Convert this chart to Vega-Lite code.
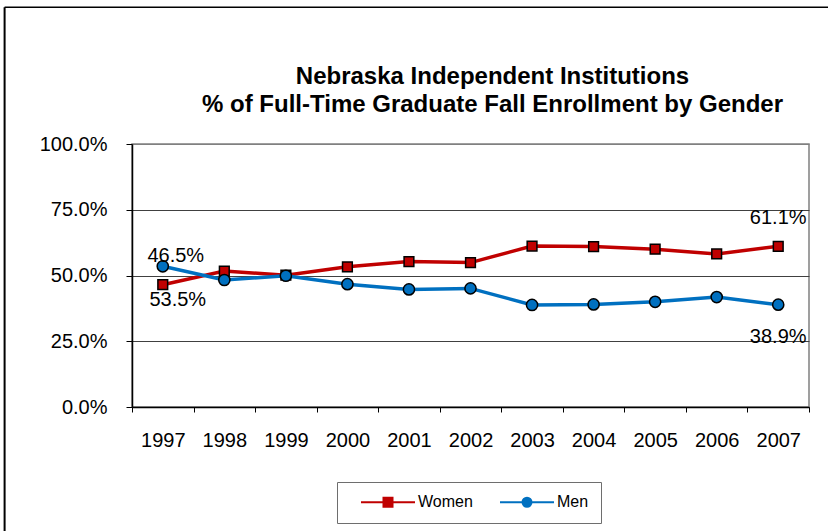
{
  "$schema": "https://vega.github.io/schema/vega-lite/v6.json",
  "width": 677,
  "height": 263,
  "autosize": {"type": "none"},
  "padding": {"left": 132, "top": 144, "right": 19, "bottom": 124},
  "background": "white",
  "config": {
    "view": {"stroke": "#808080", "strokeWidth": 1.5},
    "font": "Liberation Sans"
  },
  "title": {
    "text": ["Nebraska Independent Institutions", "% of Full-Time Graduate Fall Enrollment by Gender"],
    "font": "Liberation Sans",
    "fontSize": 24,
    "fontWeight": "bold",
    "color": "black",
    "anchor": "middle",
    "frame": "group",
    "dx": 22,
    "offset": -111,
    "lineHeight": 28
  },
  "data": {
    "values": [
      {"year": 1997, "series": "Women", "value": 0.465},
      {"year": 1998, "series": "Women", "value": 0.517},
      {"year": 1999, "series": "Women", "value": 0.501},
      {"year": 2000, "series": "Women", "value": 0.533},
      {"year": 2001, "series": "Women", "value": 0.553},
      {"year": 2002, "series": "Women", "value": 0.549},
      {"year": 2003, "series": "Women", "value": 0.612},
      {"year": 2004, "series": "Women", "value": 0.610},
      {"year": 2005, "series": "Women", "value": 0.600},
      {"year": 2006, "series": "Women", "value": 0.582},
      {"year": 2007, "series": "Women", "value": 0.611},
      {"year": 1997, "series": "Men", "value": 0.535},
      {"year": 1998, "series": "Men", "value": 0.483},
      {"year": 1999, "series": "Men", "value": 0.499},
      {"year": 2000, "series": "Men", "value": 0.467},
      {"year": 2001, "series": "Men", "value": 0.447},
      {"year": 2002, "series": "Men", "value": 0.451},
      {"year": 2003, "series": "Men", "value": 0.388},
      {"year": 2004, "series": "Men", "value": 0.390},
      {"year": 2005, "series": "Men", "value": 0.400},
      {"year": 2006, "series": "Men", "value": 0.418},
      {"year": 2007, "series": "Men", "value": 0.389}
    ]
  },
  "layer": [
    {
      "data": {"values": [{}]},
      "mark": {"type": "rule", "color": "black", "strokeWidth": 2},
      "encoding": {
        "x": {"datum": 1994.43, "type": "quantitative"},
        "y": {"datum": 1.52, "type": "quantitative"},
        "y2": {"datum": -0.6}
      }
    },
    {
      "data": {"values": [{}]},
      "mark": {"type": "rule", "color": "black", "strokeWidth": 1.5},
      "encoding": {
        "x": {"datum": 1994.43, "type": "quantitative"},
        "x2": {"datum": 2008.2},
        "y": {"datum": 1.52, "type": "quantitative"}
      }
    },
    {
      "mark": {"type": "line", "strokeWidth": 3.5},
      "encoding": {
        "x": {
          "field": "year",
          "type": "quantitative",
          "scale": {"domain": [1996.5, 2007.5], "nice": false, "zero": false},
          "axis": {
            "title": null,
            "values": [1996.5, 1997.5, 1998.5, 1999.5, 2000.5, 2001.5, 2002.5, 2003.5, 2004.5, 2005.5, 2006.5, 2007.5],
            "labelExpr": "datum.value > 2007 ? '' : toString(datum.value + 0.5)",
            "labelOffset": 30.8,
            "labelFont": "Liberation Sans",
            "labelFontSize": 20,
            "labelColor": "black",
            "labelPadding": 18,
            "labelOverlap": false,
            "labelFlush": false,
            "labelBound": false,
            "tickSize": 5,
            "tickColor": "black",
            "domainColor": "black",
            "domainWidth": 1.5,
            "grid": false
          }
        },
        "y": {
          "field": "value",
          "type": "quantitative",
          "scale": {"domain": [0, 1], "nice": false},
          "axis": {
            "title": null,
            "values": [0, 0.25, 0.5, 0.75, 1],
            "format": ".1%",
            "labelFont": "Liberation Sans",
            "labelFontSize": 20,
            "labelColor": "black",
            "labelPadding": 19,
            "tickSize": 6,
            "tickColor": "black",
            "domainColor": "black",
            "domainWidth": 1.5,
            "grid": true,
            "gridColor": {"condition": {"test": "datum.value === 1", "value": "#808080"}, "value": "#404040"},
            "gridWidth": 1
          }
        },
        "color": {
          "field": "series",
          "type": "nominal",
          "scale": {"domain": ["Women", "Men"], "range": ["#c00000", "#0070c0"]},
          "legend": {
            "orient": "none",
            "legendX": 205,
            "legendY": 338,
            "direction": "horizontal",
            "title": null,
            "strokeColor": "#6e6e6e",
            "padding": 12,
            "symbolSize": 100,
            "symbolStrokeWidth": 2,
            "labelFont": "Liberation Sans",
            "labelFontSize": 16,
            "labelColor": "black",
            "labelOffset": 53,
            "columnPadding": 15,
            "encode": {
              "symbols": {
                "update": {
                  "x": {"value": 39},
                  "shape": {"signal": "datum.value === 'Women' ? 'M-5.4,0L5.4,0M-0.9,-0.9L0.9,-0.9L0.9,0.9L-0.9,0.9Z' : 'M-5.4,0L5.4,0M0.9,0A0.9,0.9,0,1,1,-0.9,0A0.9,0.9,0,1,1,0.9,0Z'"},
                  "fill": {"signal": "datum.value === 'Women' ? '#c00000' : '#0070c0'"},
                  "stroke": {"signal": "datum.value === 'Women' ? '#c00000' : '#0070c0'"},
                  "strokeWidth": {"value": 2}
                }
              }
            }
          }
        }
      }
    },
    {
      "transform": [{"filter": "datum.series === 'Women'"}],
      "mark": {"type": "point", "shape": "square", "size": 95, "filled": true, "fill": "#c00000", "stroke": "black", "strokeWidth": 1.5, "opacity": 1},
      "encoding": {
        "x": {"field": "year", "type": "quantitative"},
        "y": {"field": "value", "type": "quantitative"}
      }
    },
    {
      "transform": [{"filter": "datum.series === 'Men'"}],
      "mark": {"type": "point", "shape": "circle", "size": 125, "filled": true, "fill": "#0070c0", "stroke": "black", "strokeWidth": 1.5, "opacity": 1},
      "encoding": {
        "x": {"field": "year", "type": "quantitative"},
        "y": {"field": "value", "type": "quantitative"}
      }
    },
    {
      "transform": [{"filter": "datum.series === 'Women' && datum.year === 1997"}],
      "mark": {"type": "text", "font": "Liberation Sans", "fontSize": 20, "color": "black", "baseline": "middle", "dx": 13, "dy": -29},
      "encoding": {
        "x": {"field": "year", "type": "quantitative"},
        "y": {"field": "value", "type": "quantitative"},
        "text": {"field": "value", "type": "quantitative", "format": ".1%"}
      }
    },
    {
      "transform": [{"filter": "datum.series === 'Men' && datum.year === 1997"}],
      "mark": {"type": "text", "font": "Liberation Sans", "fontSize": 20, "color": "black", "baseline": "middle", "dx": 15, "dy": 34},
      "encoding": {
        "x": {"field": "year", "type": "quantitative"},
        "y": {"field": "value", "type": "quantitative"},
        "text": {"field": "value", "type": "quantitative", "format": ".1%"}
      }
    },
    {
      "transform": [{"filter": "datum.series === 'Women' && datum.year === 2007"}],
      "mark": {"type": "text", "font": "Liberation Sans", "fontSize": 20, "color": "black", "baseline": "middle", "dx": 0, "dy": -28},
      "encoding": {
        "x": {"field": "year", "type": "quantitative"},
        "y": {"field": "value", "type": "quantitative"},
        "text": {"field": "value", "type": "quantitative", "format": ".1%"}
      }
    },
    {
      "transform": [{"filter": "datum.series === 'Men' && datum.year === 2007"}],
      "mark": {"type": "text", "font": "Liberation Sans", "fontSize": 20, "color": "black", "baseline": "middle", "dx": 0, "dy": 32},
      "encoding": {
        "x": {"field": "year", "type": "quantitative"},
        "y": {"field": "value", "type": "quantitative"},
        "text": {"field": "value", "type": "quantitative", "format": ".1%"}
      }
    }
  ]
}
